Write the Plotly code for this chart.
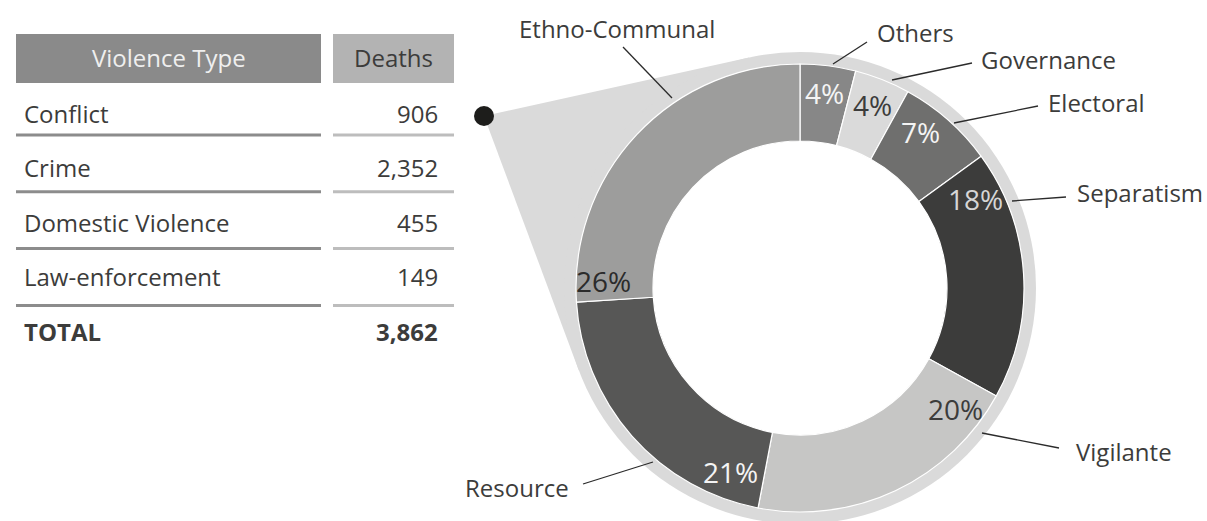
import math
import plotly.graph_objects as go

# ---------------- data ----------------
table_headers = ["Violence Type", "Deaths"]
violence_types = ["Conflict", "Crime", "Domestic Violence", "Law-enforcement"]
deaths = [906, 2352, 455, 149]
total_label = "TOTAL"

conflict_types = ["Others", "Governance", "Electoral", "Separatism",
                  "Vigilante", "Resource", "Ethno-Communal"]
conflict_share = [4, 4, 7, 18, 20, 21, 26]

# ---------------- styling / layout ----------------
W, H = 1207, 521
FONT = "Open Sans"
DARK = "#3c3c3b"


def px(x):
    return x / W


def py(y):
    return 1 - y / H


slice_colors = ["#878787", "#dadada", "#6f6f6e", "#3c3c3b",
                "#c6c6c5", "#575756", "#9d9d9c"]
pct_colors = ["#f4f4f4", "#3c3c3b", "#f4f4f4", "#d6d6d6",
              "#3c3c3b", "#f4f4f4", "#2b2b2b"]
# angular offset (deg) of each % label from its slice start (max), style only
pct_offset_cap = [9, 9, 9, 9, 9, 10, 5.5]

CX, CY = 800, 288
R_OUT, R_IN, R_RING = 224, 147, 236
DOT = (484, 116)

# label text centre and leader line (outer end, ring end) in pixels
label_layout = {
    "Ethno-Communal": ((617, 28), (623, 47), (672, 98)),
    "Others": ((915, 33), (867, 42), (833, 64)),
    "Governance": ((1048, 60), (972, 63), (892, 80)),
    "Electoral": ((1096, 103), (1038, 106), (954, 123)),
    "Separatism": ((1140, 192), (1066, 197), (1012, 201)),
    "Vigilante": ((1124, 451), (1059, 448), (982, 433)),
    "Resource": ((517, 487), (583, 484), (653, 462)),
}

fig = go.Figure()

fig.add_trace(go.Pie(
    values=conflict_share,
    labels=conflict_types,
    sort=False,
    direction="clockwise",
    rotation=0,
    hole=R_IN / R_OUT,
    marker=dict(colors=slice_colors, line=dict(color="white", width=1.2)),
    textinfo="none",
    hoverinfo="label+percent",
    showlegend=False,
    domain=dict(x=[px(CX - R_OUT), px(CX + R_OUT)],
                y=[py(CY + R_OUT), py(CY - R_OUT)]),
))

shapes = []
annotations = []

# callout wedge + outer ring
dx, dy = DOT[0] - CX, DOT[1] - CY
dist = math.hypot(dx, dy)
base = math.atan2(dy, dx)
alpha = math.acos(R_RING / dist)
tangents = []
for a in (base + alpha, base - alpha):
    tangents.append((CX + R_RING * math.cos(a), CY + R_RING * math.sin(a)))
pts = [DOT, tangents[0], (CX, CY), tangents[1]]
path = "M " + " L ".join(f"{px(x):.5f},{py(y):.5f}" for x, y in pts) + " Z"
shapes.append(dict(type="path", xref="paper", yref="paper", path=path,
                   fillcolor="#dadada", line=dict(width=0), layer="below"))
shapes.append(dict(type="circle", xref="paper", yref="paper",
                   x0=px(CX - R_RING), x1=px(CX + R_RING),
                   y0=py(CY + R_RING), y1=py(CY - R_RING),
                   fillcolor="#dadada", line=dict(width=0), layer="below"))
shapes.append(dict(type="circle", xref="paper", yref="paper",
                   x0=px(CX - R_IN), x1=px(CX + R_IN),
                   y0=py(CY + R_IN), y1=py(CY - R_IN),
                   fillcolor="white", line=dict(width=0), layer="below"))
shapes.append(dict(type="circle", xref="paper", yref="paper",
                   x0=px(DOT[0] - 10), x1=px(DOT[0] + 10),
                   y0=py(DOT[1] + 10), y1=py(DOT[1] - 10),
                   fillcolor="#1d1d1b", line=dict(width=0), layer="above"))

# percentage labels (placed from cumulative shares)
total_share = sum(conflict_share)
start = 0.0
R_TXT = 197
for name, v, col, cap in zip(conflict_types, conflict_share, pct_colors, pct_offset_cap):
    width_deg = v / total_share * 360
    ang = math.radians(start + min(width_deg / 2, cap))
    tx = CX + R_TXT * math.sin(ang)
    ty = CY - R_TXT * math.cos(ang)
    annotations.append(dict(x=px(tx), y=py(ty), xref="paper", yref="paper",
                            text=f"{v}%", showarrow=False,
                            xanchor="center", yanchor="middle",
                            font=dict(family=FONT, size=28, color=col)))
    start += width_deg

# outer category labels with leader lines
for name in conflict_types:
    (tx, ty), (lx0, ly0), (lx1, ly1) = label_layout[name]
    annotations.append(dict(x=px(tx), y=py(ty), xref="paper", yref="paper",
                            text=name, showarrow=False,
                            xanchor="center", yanchor="middle",
                            font=dict(family=FONT, size=24, color=DARK)))
    shapes.append(dict(type="line", xref="paper", yref="paper",
                       x0=px(lx0), y0=py(ly0), x1=px(lx1), y1=py(ly1),
                       line=dict(color="#2b2b2b", width=1.3), layer="above"))

# ---------------- table ----------------
HX0, HX1, DX0, DX1 = 16, 321, 333, 454
HY0, HY1 = 34, 83
shapes.append(dict(type="rect", xref="paper", yref="paper",
                   x0=px(HX0), x1=px(HX1), y0=py(HY1), y1=py(HY0),
                   fillcolor="#8a8a8a", line=dict(width=0)))
shapes.append(dict(type="rect", xref="paper", yref="paper",
                   x0=px(DX0), x1=px(DX1), y0=py(HY1), y1=py(HY0),
                   fillcolor="#b3b3b3", line=dict(width=0)))
annotations.append(dict(x=px((HX0 + HX1) / 2), y=py(58), xref="paper", yref="paper",
                        text=table_headers[0], showarrow=False,
                        xanchor="center", yanchor="middle",
                        font=dict(family=FONT, size=24, color="#efefef")))
annotations.append(dict(x=px((DX0 + DX1) / 2), y=py(58), xref="paper", yref="paper",
                        text=table_headers[1], showarrow=False,
                        xanchor="center", yanchor="middle",
                        font=dict(family=FONT, size=24, color=DARK)))

ROW0, ROW_STEP = 113, 54.5
SEP0, SEP_STEP = 135, 56.8
for i, (vt, d) in enumerate(zip(violence_types, deaths)):
    yc = ROW0 + i * ROW_STEP
    annotations.append(dict(x=px(22), y=py(yc), xref="paper", yref="paper",
                            text=vt, showarrow=False,
                            xanchor="left", yanchor="middle",
                            font=dict(family=FONT, size=24, color=DARK)))
    annotations.append(dict(x=px(440), y=py(yc), xref="paper", yref="paper",
                            text=f"{d:,}", showarrow=False,
                            xanchor="right", yanchor="middle",
                            font=dict(family=FONT, size=24, color=DARK)))
    ys = SEP0 + i * SEP_STEP
    shapes.append(dict(type="line", xref="paper", yref="paper",
                       x0=px(HX0), x1=px(HX1), y0=py(ys), y1=py(ys),
                       line=dict(color="#8c8c8c", width=3)))
    shapes.append(dict(type="line", xref="paper", yref="paper",
                       x0=px(DX0), x1=px(DX1), y0=py(ys), y1=py(ys),
                       line=dict(color="#bdbdbd", width=3)))

yt = ROW0 + len(violence_types) * ROW_STEP
annotations.append(dict(x=px(22), y=py(yt), xref="paper", yref="paper",
                        text=f"<b>{total_label}</b>", showarrow=False,
                        xanchor="left", yanchor="middle",
                        font=dict(family=FONT, size=24, color=DARK)))
annotations.append(dict(x=px(440), y=py(yt), xref="paper", yref="paper",
                        text=f"<b>{sum(deaths):,}</b>", showarrow=False,
                        xanchor="right", yanchor="middle",
                        font=dict(family=FONT, size=24, color=DARK)))

fig.update_layout(
    width=W, height=H,
    margin=dict(l=0, r=0, t=0, b=0),
    paper_bgcolor="white", plot_bgcolor="white",
    shapes=shapes, annotations=annotations,
    showlegend=False,
    font=dict(family=FONT, color=DARK),
)

fig.write_html("out.html", config={"displayModeBar": False},
               post_script="document.body.style.margin='0';document.body.style.overflow='hidden';")
